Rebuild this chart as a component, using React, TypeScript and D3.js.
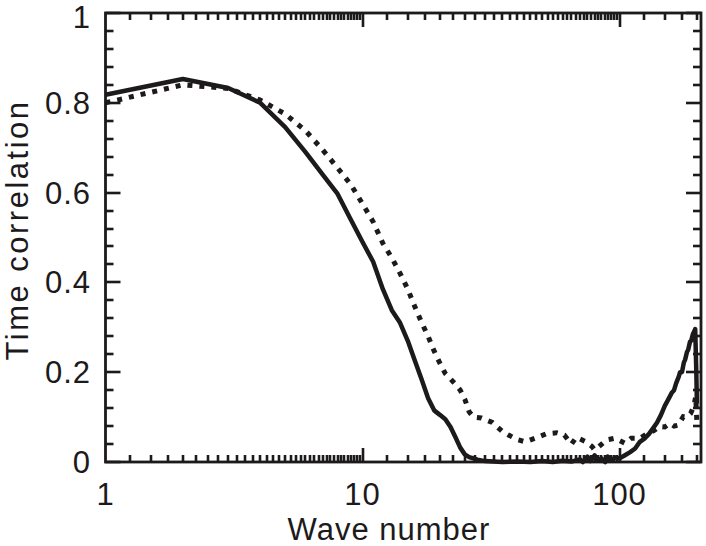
import * as d3 from 'd3'

// wave numbers and time correlation, solid curve
const solidK = [1, 2, 3, 4, 5, 6, 7, 8, 9, 10, 11, 12, 13, 14, 15, 16, 17, 18, 19, 20, 21, 22, 23, 24, 25, 26, 27, 28, 30, 35, 40, 45, 50, 55, 60, 65, 70, 72, 75, 77, 80, 82, 85, 88, 90, 93, 96, 100, 105, 110, 115, 120, 125, 130, 135, 140, 145, 150, 155, 160, 163, 166, 170, 172, 175, 178, 180, 183, 185, 188, 190, 193, 195, 197, 199, 200]
const solidV = [0.818, 0.853, 0.833, 0.8, 0.746, 0.69, 0.64, 0.597, 0.54, 0.49, 0.446, 0.385, 0.338, 0.31, 0.27, 0.225, 0.183, 0.142, 0.115, 0.105, 0.095, 0.078, 0.055, 0.032, 0.017, 0.011, 0.008, 0.005, 0.002, 0, 0.001, 0, 0.002, 0, 0.003, 0.001, 0.006, 0, 0.012, 0.002, 0.015, 0.003, 0.008, 0, 0.012, 0.004, 0.01, 0.008, 0.015, 0.022, 0.03, 0.045, 0.052, 0.062, 0.075, 0.088, 0.105, 0.125, 0.14, 0.155, 0.16, 0.175, 0.19, 0.2, 0.2, 0.222, 0.228, 0.245, 0.25, 0.268, 0.27, 0.285, 0.29, 0.296, 0.2, 0.13]

// dotted curve
const dottedK = [1, 2, 3, 4, 5, 6, 7, 8, 9, 10, 11, 12, 13, 14, 15, 16, 17, 18, 19, 20, 21, 22, 23, 24, 25, 26, 27, 29, 32, 35, 37, 40, 43, 47, 52, 57, 61, 65, 68, 74, 78, 80, 83, 89, 96, 105, 111, 120, 129, 136, 143, 150, 157, 163, 169, 177, 183, 189, 193, 196, 198, 200]
const dottedV = [0.8, 0.84, 0.832, 0.806, 0.775, 0.738, 0.695, 0.655, 0.618, 0.575, 0.535, 0.487, 0.455, 0.42, 0.385, 0.345, 0.31, 0.28, 0.247, 0.22, 0.197, 0.185, 0.173, 0.16, 0.14, 0.112, 0.1, 0.098, 0.088, 0.068, 0.06, 0.05, 0.045, 0.053, 0.063, 0.065, 0.06, 0.04, 0.055, 0.045, 0.035, 0.027, 0.034, 0.049, 0.053, 0.042, 0.053, 0.053, 0.064, 0.07, 0.079, 0.078, 0.086, 0.08, 0.082, 0.101, 0.1, 0.108, 0.12, 0.134, 0.145, 0.088]

const xTicks = [1, 10, 100]
const xTickLabels = ['1', '10', '100']
const yTicks = [0, 0.2, 0.4, 0.6, 0.8, 1]
const yTickLabels = ['0', '0.2', '0.4', '0.6', '0.8', '1']

const W = 706
const H = 546
const left = 105.5
const right = 701
const top = 13
const bottom = 462
const ink = '#1c1a1b'
const font = '"Liberation Sans", Arial, Helvetica, sans-serif'

export default function App() {
  const x = d3.scaleLog().domain([1, 207.5]).range([left, right])
  const y = d3.scaleLinear().domain([0, 1]).range([bottom, top])

  // minor ticks: quarter steps inside each decade
  const xMinor: number[] = []
  for (const d of xTicks) {
    for (let j = 1; j < 36; j++) {
      const v = d + (j * d) / 4
      if (v <= 201) xMinor.push(v)
    }
  }
  const yMinor = d3.range(1, 25).map(i => i * 0.04).filter(v => Math.abs(v * 5 - Math.round(v * 5)) > 1e-6)

  // tick segments, all pointing into the frame and mirrored on opposite sides
  const px = (v: number) => Math.round(x(v))
  const py = (v: number) => Math.round(y(v))
  const segs: Array<[number, number, number, number]> = []
  xMinor.forEach(v => {
    segs.push([px(v), bottom, px(v), bottom - 7])
    segs.push([px(v), top, px(v), top + 7])
  })
  xTicks.slice(1).forEach(v => {
    segs.push([px(v), bottom, px(v), bottom - 14])
    segs.push([px(v), top, px(v), top + 14])
  })
  yMinor.forEach(v => {
    segs.push([left, py(v), left + 8, py(v)])
    segs.push([right, py(v), right - 8, py(v)])
  })
  yTicks.forEach(v => {
    segs.push([left, py(v), left + 15, py(v)])
    segs.push([right, py(v), right - 15, py(v)])
  })

  const line = d3.line<[number, number]>()
    .x(d => x(d[0]))
    .y(d => y(d[1]))

  const solid = line(solidK.map((k, i) => [k, solidV[i]]))
  const dotted = line(dottedK.map((k, i) => [k, dottedV[i]]))

  return (
    <svg width={W} height={H} style={{ position: 'absolute', left: 0, top: 0, background: '#fff' }}>
      <path d={dotted ?? ''} fill="none" stroke={ink} strokeWidth={5} strokeDasharray="5 7" />
      <path d={solid ?? ''} fill="none" stroke={ink} strokeWidth={4.5} strokeLinejoin="round" />

      <rect x={left} y={top} width={right - left} height={bottom - top} fill="none" stroke={ink} strokeWidth={2.8} />

      {segs.map((s, i) => (
        <line key={i} x1={s[0]} y1={s[1]} x2={s[2]} y2={s[3]} stroke={ink} strokeWidth={2.6} />
      ))}

      <g fill={ink} fontFamily={font} fontSize={31} letterSpacing={1}>
        {xTicks.map((v, i) => (
          <text key={'xl' + v} x={x(v)} y={505} textAnchor="middle">{xTickLabels[i]}</text>
        ))}
        {yTicks.map((v, i) => (
          <text key={'yl' + v} x={91} y={Math.max(y(v) + 11, 28)} textAnchor="end">{yTickLabels[i]}</text>
        ))}
        <text x={389} y={540} textAnchor="middle">Wave number</text>
        <text transform="translate(28,230) rotate(-90)" textAnchor="middle" letterSpacing={2.5}>Time correlation</text>
      </g>
    </svg>
  )
}
